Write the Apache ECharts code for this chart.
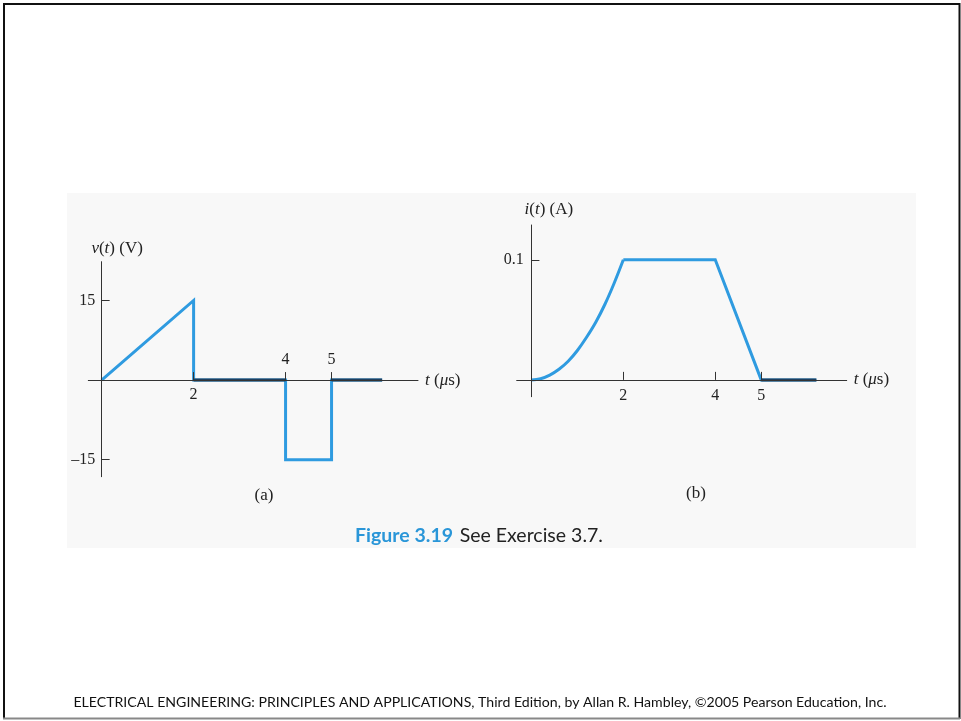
<!DOCTYPE html>
<html>
<head>
<meta charset="utf-8">
<script src="https://cdn.jsdelivr.net/npm/echarts@6/dist/echarts.min.js"></script>
<style>
html,body{margin:0;padding:0;background:#fff;}
#main{width:961px;height:721px;}
</style>
</head>
<body>
<div id="main"></div>
<script>
// ---- data ----
const tA = [0, 2, 2, 4, 4, 5, 5, 6.1];
const vA = [0, 15, 0, 0, -15, -15, 0, 0];

const tBcurve = [0, 0.2, 0.4, 0.6, 0.8, 1.0, 1.2, 1.4, 1.6, 1.8, 2.0];
const iBcurve = [0, 0.001, 0.004, 0.0088, 0.0155, 0.0245, 0.0355, 0.048, 0.063, 0.0805, 0.1];
const tBline = [2, 4, 5, 6.2];
const iBline = [0.1, 0.1, 0, 0];

const ticksAx = [2, 4, 5];
const labelsAbelow = [2];
const labelsAabove = [4, 5];
const ticksAy = [15, -15];
const ticksBx = [2, 4, 5];
const ticksBy = [0.1];

const captionBold = 'Figure 3.19';
const captionText = 'See Exercise 3.7.';
const footerText = 'ELECTRICAL ENGINEERING: PRINCIPLES AND APPLICATIONS, Third Edition, by Allan R. Hambley, \u00A92005 Pearson Education, Inc.';

// ---- styles ----
const BLUE = '#2f9be0';
const DARK = '#1f3f5e';
const AX = '#333';
const SERIF = '"Liberation Serif","DejaVu Serif",serif';
const SANS = 'Lato,"Open Sans",sans-serif';
const TICK_FS = 16;
const NAME_FS = 17;
const pairs = (xs, ys) => xs.map((x, i) => [x, ys[i]]);
// segments lying on the time axis (value 0 at both ends), separated by gaps
function onAxis(xs, ys) {
  const out = [];
  for (let i = 0; i < xs.length - 1; i++) {
    if (ys[i] === 0 && ys[i + 1] === 0) {
      if (out.length) out.push([null, null]);
      out.push([xs[i], ys[i]], [xs[i + 1], ys[i + 1]]);
    }
  }
  return out;
}
const fmt = v => (v < 0 ? '\u2013' + Math.abs(v) : String(v));

function fitSize(text, family, weight, target) {
  const c = document.createElement('canvas').getContext('2d');
  c.font = weight + ' 100px ' + family;
  return 100 * target / c.measureText(text).width;
}
const footSize = fitSize(footerText, SANS, 'normal', 813);

const italicRich = { i: { fontStyle: 'italic', fontFamily: SERIF, fontSize: NAME_FS, color: '#222' } };
const nameStyle = (extra) => Object.assign({ fontFamily: SERIF, fontSize: NAME_FS, color: '#222', rich: italicRich }, extra || {});
const labelStyle = (extra) => Object.assign({ fontFamily: SERIF, fontSize: TICK_FS, color: '#222' }, extra || {});

const chart = echarts.init(document.getElementById('main'));
chart.setOption({
  animation: false,
  grid: [
    { left: 88.3, top: 261.7, width: 329.7, height: 215 },
    { left: 516.7, top: 225, width: 330, height: 171.7 }
  ],
  xAxis: [
    {
      gridIndex: 0, type: 'value', min: -0.29, max: 6.88, z: 10,
      axisLine: { onZero: true, lineStyle: { color: AX, width: 1 } },
      axisTick: { inside: true, length: 8, customValues: ticksAx, lineStyle: { color: AX } },
      axisLabel: labelStyle({ customValues: labelsAbelow, margin: -90 }),
      splitLine: { show: false },
      name: '{i|t} ({i|\u03BC}s)', nameLocation: 'end', nameGap: 7,
      nameTextStyle: nameStyle()
    },
    {
      gridIndex: 0, type: 'value', min: -0.29, max: 6.88, position: 'top',
      axisLine: { show: false, onZero: true, onZeroAxisIndex: 0 },
      axisTick: { show: false },
      axisLabel: labelStyle({ customValues: labelsAabove, margin: -106 }),
      splitLine: { show: false }
    },
    {
      gridIndex: 1, type: 'value', min: -0.32, max: 6.86, z: 10,
      axisLine: { onZero: true, lineStyle: { color: AX, width: 1 } },
      axisTick: { inside: true, length: 8, customValues: ticksBx, lineStyle: { color: AX } },
      axisLabel: labelStyle({ customValues: ticksBx, margin: -9 }),
      splitLine: { show: false },
      name: '{i|t} ({i|\u03BC}s)', nameLocation: 'end', nameGap: 7,
      nameTextStyle: nameStyle()
    }
  ],
  yAxis: [
    {
      gridIndex: 0, type: 'value', min: -18.2, max: 22.3, z: 10,
      axisLine: { onZero: true, lineStyle: { color: AX, width: 1 } },
      axisTick: { inside: true, length: 8, customValues: ticksAy, lineStyle: { color: AX } },
      axisLabel: labelStyle({ customValues: ticksAy, margin: -7, formatter: fmt }),
      splitLine: { show: false },
      name: '{i|v}({i|t}) (V)', nameLocation: 'end', nameGap: 5,
      nameTextStyle: nameStyle({ align: 'center', padding: [0, 0, 0, 31] })
    },
    {
      gridIndex: 1, type: 'value', min: -0.014, max: 0.129, z: 10,
      axisLine: { onZero: true, lineStyle: { color: AX, width: 1 } },
      axisTick: { inside: true, length: 8, customValues: ticksBy, lineStyle: { color: AX } },
      axisLabel: labelStyle({ customValues: ticksBy, margin: -7 }),
      splitLine: { show: false },
      name: '{i|i}({i|t}) (A)', nameLocation: 'end', nameGap: 7,
      nameTextStyle: nameStyle({ align: 'center', padding: [0, 0, 0, 35] })
    }
  ],
  series: [
    {
      type: 'line', xAxisIndex: 0, yAxisIndex: 0, data: pairs(tA, vA), z: 1,
      symbol: 'none', lineStyle: { color: BLUE, width: 3, join: 'miter' }
    },
    {
      type: 'line', xAxisIndex: 0, yAxisIndex: 0, data: onAxis(tA, vA), z: 2,
      symbol: 'none', connectNulls: false, lineStyle: { color: DARK, width: 3 }
    },
    {
      type: 'line', xAxisIndex: 2, yAxisIndex: 1, data: pairs(tBcurve, iBcurve), z: 1,
      symbol: 'none', smooth: 0.4, lineStyle: { color: BLUE, width: 3 }
    },
    {
      type: 'line', xAxisIndex: 2, yAxisIndex: 1, data: pairs(tBline, iBline), z: 1,
      symbol: 'none', lineStyle: { color: BLUE, width: 3, join: 'miter' }
    },
    {
      type: 'line', xAxisIndex: 2, yAxisIndex: 1, data: onAxis(tBline, iBline), z: 2,
      symbol: 'none', connectNulls: false, lineStyle: { color: DARK, width: 3 }
    }
  ],
  graphic: [
    { type: 'rect', z: -10, silent: true, shape: { x: 67, y: 193, width: 849, height: 355 }, style: { fill: '#f8f8f8' } },
    { type: 'line', shape: { x1: 4, y1: 3, x2: 4, y2: 719 }, style: { stroke: '#111', lineWidth: 2 } },
    { type: 'line', shape: { x1: 3, y1: 4, x2: 960, y2: 4 }, style: { stroke: '#111', lineWidth: 2 } },
    { type: 'line', shape: { x1: 959.5, y1: 3, x2: 959.5, y2: 719 }, style: { stroke: '#111', lineWidth: 2 } },
    { type: 'line', shape: { x1: 3, y1: 718.5, x2: 960, y2: 718.5 }, style: { stroke: '#888', lineWidth: 2 } },
    { type: 'text', x: 264, y: 496, style: { text: '(a)', font: NAME_FS + 'px ' + SERIF, fill: '#222', align: 'center', verticalAlign: 'middle' } },
    { type: 'text', x: 696, y: 494, style: { text: '(b)', font: NAME_FS + 'px ' + SERIF, fill: '#222', align: 'center', verticalAlign: 'middle' } },
    {
      type: 'text', x: 479, y: 536,
      style: {
        text: '{b|' + captionBold + '}  {n|' + captionText + '}', align: 'center', verticalAlign: 'middle',
        rich: {
          b: { fontFamily: SANS, fontWeight: 'bold', fontSize: 19.5, fill: '#2a96d8' },
          n: { fontFamily: SANS, fontSize: 19.5, fill: '#222' }
        }
      }
    },
    { type: 'text', x: 480, y: 702, style: { text: footerText, font: footSize.toFixed(2) + 'px ' + SANS, fill: '#111', align: 'center', verticalAlign: 'middle' } }
  ]
});
</script>
</body>
</html>
